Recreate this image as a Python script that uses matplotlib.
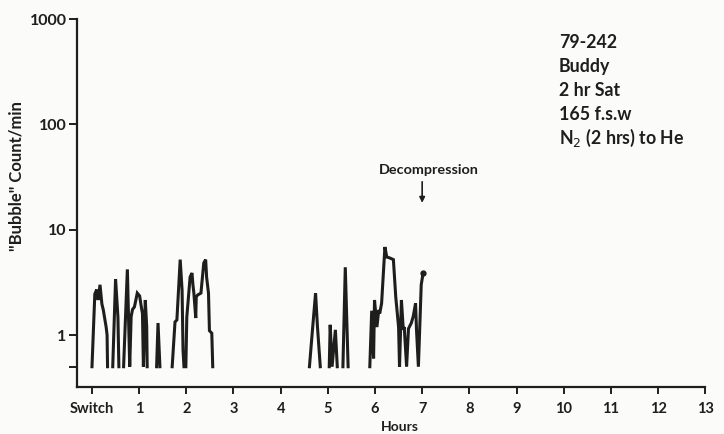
import numpy as np
import matplotlib
matplotlib.use("Agg")
import matplotlib.pyplot as plt

plt.rcParams['font.family'] = ['Lato', 'DejaVu Sans']

# trace: hours after switch, bubble count/min (0.5 = baseline, no bubbles)
nan = np.nan
hours = [0.00, 0.06, 0.10, 0.13, 0.17, 0.21, 0.24, 0.30, 0.32, 0.33, nan,
         0.44, 0.50, 0.55, 0.57, nan,
         0.67, 0.75, 0.80, 0.83, 0.86, 0.90, 0.96, 1.01, 1.05, 1.07, 1.09, 1.13, 1.16, 1.17, nan,
         1.37, 1.40, 1.44, nan,
         1.70, 1.76, 1.80, 1.87, 1.91, 1.93, 1.95, 1.99, 2.01, 2.08, 2.12, 2.14, 2.16, 2.20, 2.21,
         2.24, 2.31, 2.33, 2.37, 2.41, 2.43, 2.47, 2.49, 2.54, 2.56, nan,
         4.61, 4.68, 4.74, 4.78, 4.84, nan,
         5.03, 5.05, 5.09, 5.16, 5.20, nan,
         5.32, 5.37, 5.43, nan,
         5.89, 5.93, 5.97, 5.99, 6.04, 6.08, 6.10, 6.14, 6.21, 6.25, 6.31, 6.39, 6.44, 6.50, 6.52,
         6.56, 6.60, 6.62, 6.67, 6.71, 6.77, 6.81, 6.86, 6.88, 6.92, 6.98, 7.02]
counts = [0.5, 2.45, 2.7, 2.15, 3.0, 1.97, 1.73, 1.19, 1.0, 0.5, nan,
          0.5, 3.4, 1.48, 0.5, nan,
          0.5, 4.2, 0.5, 1.5, 1.75, 1.85, 2.5, 2.35, 1.8, 1.6, 0.5, 2.15, 1.2, 0.5, nan,
          0.5, 1.3, 0.5, nan,
          0.5, 1.33, 1.39, 5.2, 2.67, 0.72, 0.5, 0.5, 1.48, 3.55, 3.88, 3.0, 2.5, 1.45, 2.3,
          2.4, 2.5, 3.12, 4.83, 5.2, 3.55, 2.5, 1.1, 1.04, 0.5, nan,
          0.5, 1.2, 2.5, 1.2, 0.5, nan,
          0.5, 1.25, 0.5, 1.12, 0.5, nan,
          0.5, 4.4, 0.5, nan,
          0.5, 1.7, 0.6, 2.15, 1.19, 1.73, 1.6, 2.0, 6.85, 5.5, 5.4, 5.2, 2.3, 1.19, 0.5,
          2.15, 1.12, 1.19, 0.5, 1.15, 1.3, 1.5, 2.0, 1.12, 0.5, 3.0, 3.88]

x_ticks = list(range(14))
x_labels = ['Switch'] + [str(h) for h in range(1, 14)]
y_ticks = [0.5, 1, 10, 100, 1000]
y_labels = ['', '1', '10', '100', '1000']

info_lines = ['79-242', 'Buddy', '2 hr Sat', '165 f.s.w', r'N$_2$ (2 hrs) to He']

ink = '#1e1e1e'
paper = '#fbfbf9'

fig = plt.figure(figsize=(7.24, 4.34), dpi=100, facecolor=paper)
ax = fig.add_axes([0.1064, 0.108, 0.8676, 0.848])
ax.set_facecolor(paper)

ax.plot(hours, counts, color=ink, lw=2.2, solid_joinstyle='miter')
ax.plot(hours[-1], counts[-1], 'o', color=ink, ms=3.5)

ax.set_yscale('log')
ax.set_ylim(0.32, 1000)
ax.set_xlim(-0.317, 12.96)
ax.yaxis.set_minor_locator(matplotlib.ticker.NullLocator())
ax.set_yticks(y_ticks)
ax.set_yticklabels(y_labels)
ax.set_xticks(x_ticks)
ax.set_xticklabels(x_labels)

for side in ['top', 'right']:
    ax.spines[side].set_visible(False)
for side in ['left', 'bottom']:
    ax.spines[side].set_color(ink)
    ax.spines[side].set_linewidth(1.6)

ax.tick_params(axis='y', direction='out', length=6, width=1.4, color=ink,
               labelsize=11.5, pad=1.5, labelcolor=ink)
ax.tick_params(axis='x', direction='out', length=5, width=1.4, color=ink,
               labelsize=10.5, pad=6, labelcolor=ink)
for lab in ax.get_xticklabels() + ax.get_yticklabels():
    lab.set_fontweight('bold')

ax.set_ylabel('"Bubble" Count/min', fontsize=12, fontweight='bold', color=ink)
ax.yaxis.set_label_coords(-0.083, 0.573)
ax.set_xlabel('Hours', fontsize=10, fontweight='bold', color=ink)
ax.xaxis.set_label_coords(0.514, -0.093)

for i, line in enumerate(info_lines):
    fig.text(0.772, 0.903 - i * 0.0555, line, fontsize=12.8, color=ink,
             ha='left', va='center', fontweight='bold')

fig.text(0.5925, 0.608, 'Decompression', fontsize=10.4, fontweight='bold',
         color=ink, ha='center', va='center')
ax.annotate('', xy=(7.0, 18), xytext=(7.0, 28.5),
            arrowprops=dict(arrowstyle='-|>', color=ink, lw=1.2,
                            mutation_scale=8, shrinkA=0, shrinkB=0))

fig.savefig('out.png', dpi=100, facecolor=paper)
